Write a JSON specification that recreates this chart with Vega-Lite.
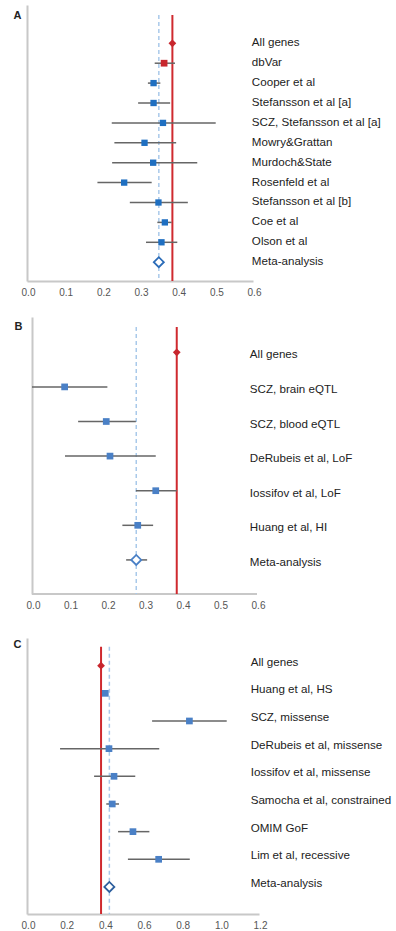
{
  "$schema": "https://vega.github.io/schema/vega-lite/v6.json",
  "background": "white",
  "padding": {"left": 13, "top": 5, "right": 0, "bottom": 0},
  "config": {
    "view": {"stroke": null},
    "font": "Liberation Sans",
    "axis": {"grid": false, "ticks": false, "domainColor": "#c8c8c8", "domainWidth": 2, "labelColor": "#555555", "labelFontSize": 10, "labelFont": "Liberation Sans", "titleFont": "Liberation Sans"},
    "axisX": {"labelPadding": 6, "format": ".1f", "labelOffset": 1, "labelFlush": false, "labelOverlap": false},
    "axisY": {"labels": false, "titleAngle": 0, "titleFontSize": 11, "titleFontWeight": "bold", "titleColor": "#222222", "titleAlign": "right", "titleBaseline": "top"},
    "text": {"font": "Liberation Sans", "fontSize": 11.6, "color": "#222222"}
  },
  "datasets": {
    "A": [
      {"row": 1, "label": "All genes", "kind": "all", "est": 0.386},
      {"row": 2, "label": "dbVar", "kind": "dbvar", "est": 0.364, "lo": 0.339, "hi": 0.393},
      {"row": 3, "label": "Cooper et al", "kind": "study", "est": 0.336, "lo": 0.321, "hi": 0.354},
      {"row": 4, "label": "Stefansson et al [a]", "kind": "study", "est": 0.336, "lo": 0.295, "hi": 0.380},
      {"row": 5, "label": "SCZ, Stefansson et al [a]", "kind": "study", "est": 0.361, "lo": 0.225, "hi": 0.501},
      {"row": 6, "label": "Mowry&Grattan", "kind": "study", "est": 0.312, "lo": 0.232, "hi": 0.396},
      {"row": 7, "label": "Murdoch&State", "kind": "study", "est": 0.335, "lo": 0.226, "hi": 0.452},
      {"row": 8, "label": "Rosenfeld et al", "kind": "study", "est": 0.258, "lo": 0.187, "hi": 0.331},
      {"row": 9, "label": "Stefansson et al [b]", "kind": "study", "est": 0.349, "lo": 0.273, "hi": 0.427},
      {"row": 10, "label": "Coe et al", "kind": "study", "est": 0.366, "lo": 0.346, "hi": 0.384},
      {"row": 11, "label": "Olson et al", "kind": "study", "est": 0.357, "lo": 0.316, "hi": 0.399},
      {"row": 12, "label": "Meta-analysis", "kind": "meta", "est": 0.350, "lo": 0.344, "hi": 0.356}
    ],
    "B": [
      {"row": 1, "label": "All genes", "kind": "all", "est": 0.386},
      {"row": 2, "label": "SCZ, brain eQTL", "kind": "study", "est": 0.087, "lo": 0.0, "hi": 0.201},
      {"row": 3, "label": "SCZ, blood eQTL", "kind": "study", "est": 0.198, "lo": 0.123, "hi": 0.277},
      {"row": 4, "label": "DeRubeis et al, LoF", "kind": "study", "est": 0.208, "lo": 0.088, "hi": 0.330},
      {"row": 5, "label": "Iossifov et al, LoF", "kind": "study", "est": 0.330, "lo": 0.277, "hi": 0.386},
      {"row": 6, "label": "Huang et al, HI", "kind": "study", "est": 0.282, "lo": 0.241, "hi": 0.323},
      {"row": 7, "label": "Meta-analysis", "kind": "meta", "est": 0.278, "lo": 0.251, "hi": 0.307}
    ],
    "C": [
      {"row": 1, "label": "All genes", "kind": "all", "est": 0.383},
      {"row": 2, "label": "Huang et al, HS", "kind": "study", "est": 0.405, "lo": 0.398, "hi": 0.412},
      {"row": 3, "label": "SCZ, missense", "kind": "study", "est": 0.840, "lo": 0.647, "hi": 1.033},
      {"row": 4, "label": "DeRubeis et al, missense", "kind": "study", "est": 0.424, "lo": 0.171, "hi": 0.684},
      {"row": 5, "label": "Iossifov et al, missense", "kind": "study", "est": 0.450, "lo": 0.347, "hi": 0.560},
      {"row": 6, "label": "Samocha et al, constrained", "kind": "study", "est": 0.441, "lo": 0.410, "hi": 0.476},
      {"row": 7, "label": "OMIM GoF", "kind": "study", "est": 0.548, "lo": 0.471, "hi": 0.633},
      {"row": 8, "label": "Lim et al, recessive", "kind": "study", "est": 0.681, "lo": 0.522, "hi": 0.842},
      {"row": 9, "label": "Meta-analysis", "kind": "meta", "est": 0.426}
    ]
  },
  "spacing": 28,
  "vconcat": [
    {
      "spacing": 20,
      "vconcat": [
        {
          "width": 226, "height": 276,
          "data": {"name": "A"},
          "layer": [
            {"transform": [{"filter": "datum.kind == 'all'"}],
             "mark": {"type": "rule", "color": "#cf2a2f", "strokeWidth": 2},
             "encoding": {
               "x": {"field": "est", "type": "quantitative", "scale": {"domain": [0, 0.6], "nice": false, "zero": false}, "axis": {"title": null, "values": [0, 0.1, 0.2, 0.3, 0.4, 0.5, 0.6]}},
               "y": {"datum": -0.42, "type": "quantitative", "scale": {"domain": [-0.925, 12.945], "reverse": true, "nice": false, "zero": false}, "axis": {"title": "A", "titlePadding": 6, "titleY": 4}},
               "y2": {"datum": 12.945}}},
            {"transform": [{"filter": "datum.kind == 'meta'"}],
             "mark": {"type": "rule", "color": "#a9c9ea", "strokeWidth": 1.5, "strokeDash": [4, 3]},
             "encoding": {
               "x": {"field": "est", "type": "quantitative", "scale": {"domain": [0, 0.6], "nice": false, "zero": false}, "axis": {"title": null, "values": [0, 0.1, 0.2, 0.3, 0.4, 0.5, 0.6]}},
               "y": {"datum": -0.42, "type": "quantitative", "scale": {"domain": [-0.925, 12.945], "reverse": true, "nice": false, "zero": false}, "axis": {"title": "A", "titlePadding": 6, "titleY": 4}},
               "y2": {"datum": 12.945}}},
            {"transform": [{"filter": "isValid(datum.lo)"}],
             "mark": {"type": "rule", "color": "#666666", "strokeWidth": 1.5},
             "encoding": {
               "x": {"field": "lo", "type": "quantitative", "scale": {"domain": [0, 0.6], "nice": false, "zero": false}, "axis": {"title": null, "values": [0, 0.1, 0.2, 0.3, 0.4, 0.5, 0.6]}},
               "x2": {"field": "hi"},
               "y": {"field": "row", "type": "quantitative", "scale": {"domain": [-0.925, 12.945], "reverse": true, "nice": false, "zero": false}, "axis": {"title": "A", "titlePadding": 6, "titleY": 4}}}},
            {"transform": [{"filter": "datum.kind == 'study'"}],
             "mark": {"type": "point", "shape": "square", "filled": true, "opacity": 1, "color": "#1f6fc1", "size": 40},
             "encoding": {
               "x": {"field": "est", "type": "quantitative", "scale": {"domain": [0, 0.6], "nice": false, "zero": false}, "axis": {"title": null, "values": [0, 0.1, 0.2, 0.3, 0.4, 0.5, 0.6]}},
               "y": {"field": "row", "type": "quantitative", "scale": {"domain": [-0.925, 12.945], "reverse": true, "nice": false, "zero": false}, "axis": {"title": "A", "titlePadding": 6, "titleY": 4}}}},
            {"transform": [{"filter": "datum.kind == 'dbvar'"}],
             "mark": {"type": "point", "shape": "square", "filled": true, "opacity": 1, "color": "#c8262d", "size": 45},
             "encoding": {
               "x": {"field": "est", "type": "quantitative", "scale": {"domain": [0, 0.6], "nice": false, "zero": false}, "axis": {"title": null, "values": [0, 0.1, 0.2, 0.3, 0.4, 0.5, 0.6]}},
               "y": {"field": "row", "type": "quantitative", "scale": {"domain": [-0.925, 12.945], "reverse": true, "nice": false, "zero": false}, "axis": {"title": "A", "titlePadding": 6, "titleY": 4}}}},
            {"transform": [{"filter": "datum.kind == 'all'"}],
             "mark": {"type": "point", "shape": "diamond", "filled": true, "opacity": 1, "color": "#c8262d", "size": 60},
             "encoding": {
               "x": {"field": "est", "type": "quantitative", "scale": {"domain": [0, 0.6], "nice": false, "zero": false}, "axis": {"title": null, "values": [0, 0.1, 0.2, 0.3, 0.4, 0.5, 0.6]}},
               "y": {"field": "row", "type": "quantitative", "scale": {"domain": [-0.925, 12.945], "reverse": true, "nice": false, "zero": false}, "axis": {"title": "A", "titlePadding": 6, "titleY": 4}}}},
            {"transform": [{"filter": "datum.kind == 'meta'"}],
             "mark": {"type": "point", "shape": "diamond", "filled": true, "opacity": 1, "fill": "white", "stroke": "#2b6cb8", "strokeWidth": 1.8, "size": 100},
             "encoding": {
               "x": {"field": "est", "type": "quantitative", "scale": {"domain": [0, 0.6], "nice": false, "zero": false}, "axis": {"title": null, "values": [0, 0.1, 0.2, 0.3, 0.4, 0.5, 0.6]}},
               "y": {"field": "row", "type": "quantitative", "scale": {"domain": [-0.925, 12.945], "reverse": true, "nice": false, "zero": false}, "axis": {"title": "A", "titlePadding": 6, "titleY": 4}}}},
            {"mark": {"type": "text", "align": "left", "baseline": "middle"},
             "encoding": {
               "x": {"datum": 0.597, "type": "quantitative", "scale": {"domain": [0, 0.6], "nice": false, "zero": false}, "axis": {"title": null, "values": [0, 0.1, 0.2, 0.3, 0.4, 0.5, 0.6]}},
               "y": {"field": "row", "type": "quantitative", "scale": {"domain": [-0.925, 12.945], "reverse": true, "nice": false, "zero": false}, "axis": {"title": "A", "titlePadding": 6, "titleY": 4}},
               "text": {"field": "label"}}}
          ]
        },
        {
          "width": 230, "height": 277,
          "data": {"name": "B"},
          "layer": [
            {"transform": [{"filter": "datum.row == 1"}],
             "mark": {"type": "rule", "color": "#c8c8c8", "strokeWidth": 2},
             "encoding": {
               "x": {"datum": 0, "type": "quantitative", "scale": {"domain": [-0.01333, 0.6], "nice": false, "zero": false}, "axis": {"title": null, "domain": false, "values": [0, 0.1, 0.2, 0.3, 0.4, 0.5, 0.6]}},
               "x2": {"datum": 0.6},
               "y": {"datum": 7.985, "type": "quantitative", "scale": {"domain": [-0.02, 7.985], "reverse": true, "nice": false, "zero": false}, "axis": {"title": "B", "titlePadding": 10, "titleY": 3, "offset": -5}}}},
            {"transform": [{"filter": "datum.kind == 'all'"}],
             "mark": {"type": "rule", "color": "#cf2a2f", "strokeWidth": 2},
             "encoding": {
               "x": {"field": "est", "type": "quantitative", "scale": {"domain": [-0.01333, 0.6], "nice": false, "zero": false}, "axis": {"title": null, "domain": false, "values": [0, 0.1, 0.2, 0.3, 0.4, 0.5, 0.6]}},
               "y": {"datum": 0.269, "type": "quantitative", "scale": {"domain": [-0.02, 7.985], "reverse": true, "nice": false, "zero": false}, "axis": {"title": "B", "titlePadding": 10, "titleY": 3, "offset": -5}},
               "y2": {"datum": 7.985}}},
            {"transform": [{"filter": "datum.kind == 'meta'"}],
             "mark": {"type": "rule", "color": "#a9c9ea", "strokeWidth": 1.5, "strokeDash": [4, 3]},
             "encoding": {
               "x": {"field": "est", "type": "quantitative", "scale": {"domain": [-0.01333, 0.6], "nice": false, "zero": false}, "axis": {"title": null, "domain": false, "values": [0, 0.1, 0.2, 0.3, 0.4, 0.5, 0.6]}},
               "y": {"datum": 0.269, "type": "quantitative", "scale": {"domain": [-0.02, 7.985], "reverse": true, "nice": false, "zero": false}, "axis": {"title": "B", "titlePadding": 10, "titleY": 3, "offset": -5}},
               "y2": {"datum": 7.985}}},
            {"transform": [{"filter": "isValid(datum.lo)"}],
             "mark": {"type": "rule", "color": "#666666", "strokeWidth": 1.5},
             "encoding": {
               "x": {"field": "lo", "type": "quantitative", "scale": {"domain": [-0.01333, 0.6], "nice": false, "zero": false}, "axis": {"title": null, "domain": false, "values": [0, 0.1, 0.2, 0.3, 0.4, 0.5, 0.6]}},
               "x2": {"field": "hi"},
               "y": {"field": "row", "type": "quantitative", "scale": {"domain": [-0.02, 7.985], "reverse": true, "nice": false, "zero": false}, "axis": {"title": "B", "titlePadding": 10, "titleY": 3, "offset": -5}}}},
            {"transform": [{"filter": "datum.kind == 'study'"}],
             "mark": {"type": "point", "shape": "square", "filled": true, "opacity": 1, "color": "#4a80c6", "size": 45},
             "encoding": {
               "x": {"field": "est", "type": "quantitative", "scale": {"domain": [-0.01333, 0.6], "nice": false, "zero": false}, "axis": {"title": null, "domain": false, "values": [0, 0.1, 0.2, 0.3, 0.4, 0.5, 0.6]}},
               "y": {"field": "row", "type": "quantitative", "scale": {"domain": [-0.02, 7.985], "reverse": true, "nice": false, "zero": false}, "axis": {"title": "B", "titlePadding": 10, "titleY": 3, "offset": -5}}}},
            {"transform": [{"filter": "datum.kind == 'all'"}],
             "mark": {"type": "point", "shape": "diamond", "filled": true, "opacity": 1, "color": "#c8262d", "size": 60},
             "encoding": {
               "x": {"field": "est", "type": "quantitative", "scale": {"domain": [-0.01333, 0.6], "nice": false, "zero": false}, "axis": {"title": null, "domain": false, "values": [0, 0.1, 0.2, 0.3, 0.4, 0.5, 0.6]}},
               "y": {"field": "row", "type": "quantitative", "scale": {"domain": [-0.02, 7.985], "reverse": true, "nice": false, "zero": false}, "axis": {"title": "B", "titlePadding": 10, "titleY": 3, "offset": -5}}}},
            {"transform": [{"filter": "datum.kind == 'meta'"}],
             "mark": {"type": "point", "shape": "diamond", "filled": true, "opacity": 1, "fill": "white", "stroke": "#4a80c6", "strokeWidth": 1.8, "size": 100},
             "encoding": {
               "x": {"field": "est", "type": "quantitative", "scale": {"domain": [-0.01333, 0.6], "nice": false, "zero": false}, "axis": {"title": null, "domain": false, "values": [0, 0.1, 0.2, 0.3, 0.4, 0.5, 0.6]}},
               "y": {"field": "row", "type": "quantitative", "scale": {"domain": [-0.02, 7.985], "reverse": true, "nice": false, "zero": false}, "axis": {"title": "B", "titlePadding": 10, "titleY": 3, "offset": -5}}}},
            {"mark": {"type": "text", "align": "left", "baseline": "middle", "dy": 3},
             "encoding": {
               "x": {"datum": 0.581, "type": "quantitative", "scale": {"domain": [-0.01333, 0.6], "nice": false, "zero": false}, "axis": {"title": null, "domain": false, "values": [0, 0.1, 0.2, 0.3, 0.4, 0.5, 0.6]}},
               "y": {"field": "row", "type": "quantitative", "scale": {"domain": [-0.02, 7.985], "reverse": true, "nice": false, "zero": false}, "axis": {"title": "B", "titlePadding": 10, "titleY": 3, "offset": -5}},
               "text": {"field": "label"}}}
          ]
        }
      ]
    },
    {
      "width": 232, "height": 276,
      "data": {"name": "C"},
      "layer": [
        {"transform": [{"filter": "datum.kind == 'all'"}],
         "mark": {"type": "rule", "color": "#cf2a2f", "strokeWidth": 2},
         "encoding": {
           "x": {"field": "est", "type": "quantitative", "scale": {"domain": [0, 1.2], "nice": false, "zero": false}, "axis": {"title": null, "values": [0, 0.2, 0.4, 0.6, 0.8, 1.0, 1.2]}},
           "y": {"datum": 0.313, "type": "quantitative", "scale": {"domain": [0, 9.977], "reverse": true, "nice": false, "zero": false}, "axis": {"title": "C", "titlePadding": 6, "titleY": 0}},
           "y2": {"datum": 9.977}}},
        {"transform": [{"filter": "datum.kind == 'meta'"}],
         "mark": {"type": "rule", "color": "#a9c9ea", "strokeWidth": 1.5, "strokeDash": [4, 3]},
         "encoding": {
           "x": {"field": "est", "type": "quantitative", "scale": {"domain": [0, 1.2], "nice": false, "zero": false}, "axis": {"title": null, "values": [0, 0.2, 0.4, 0.6, 0.8, 1.0, 1.2]}},
           "y": {"datum": 0.313, "type": "quantitative", "scale": {"domain": [0, 9.977], "reverse": true, "nice": false, "zero": false}, "axis": {"title": "C", "titlePadding": 6, "titleY": 0}},
           "y2": {"datum": 9.977}}},
        {"transform": [{"filter": "isValid(datum.lo)"}],
         "mark": {"type": "rule", "color": "#666666", "strokeWidth": 1.5},
         "encoding": {
           "x": {"field": "lo", "type": "quantitative", "scale": {"domain": [0, 1.2], "nice": false, "zero": false}, "axis": {"title": null, "values": [0, 0.2, 0.4, 0.6, 0.8, 1.0, 1.2]}},
           "x2": {"field": "hi"},
           "y": {"field": "row", "type": "quantitative", "scale": {"domain": [0, 9.977], "reverse": true, "nice": false, "zero": false}, "axis": {"title": "C", "titlePadding": 6, "titleY": 0}}}},
        {"transform": [{"filter": "datum.kind == 'study'"}],
         "mark": {"type": "point", "shape": "square", "filled": true, "opacity": 1, "color": "#4a80c6", "size": 45},
         "encoding": {
           "x": {"field": "est", "type": "quantitative", "scale": {"domain": [0, 1.2], "nice": false, "zero": false}, "axis": {"title": null, "values": [0, 0.2, 0.4, 0.6, 0.8, 1.0, 1.2]}},
           "y": {"field": "row", "type": "quantitative", "scale": {"domain": [0, 9.977], "reverse": true, "nice": false, "zero": false}, "axis": {"title": "C", "titlePadding": 6, "titleY": 0}}}},
        {"transform": [{"filter": "datum.kind == 'all'"}],
         "mark": {"type": "point", "shape": "diamond", "filled": true, "opacity": 1, "color": "#c8262d", "size": 60},
         "encoding": {
           "x": {"field": "est", "type": "quantitative", "scale": {"domain": [0, 1.2], "nice": false, "zero": false}, "axis": {"title": null, "values": [0, 0.2, 0.4, 0.6, 0.8, 1.0, 1.2]}},
           "y": {"field": "row", "type": "quantitative", "scale": {"domain": [0, 9.977], "reverse": true, "nice": false, "zero": false}, "axis": {"title": "C", "titlePadding": 6, "titleY": 0}}}},
        {"transform": [{"filter": "datum.kind == 'meta'"}],
         "mark": {"type": "point", "shape": "diamond", "filled": true, "opacity": 1, "fill": "white", "stroke": "#2d5f9e", "strokeWidth": 1.8, "size": 100},
         "encoding": {
           "x": {"field": "est", "type": "quantitative", "scale": {"domain": [0, 1.2], "nice": false, "zero": false}, "axis": {"title": null, "values": [0, 0.2, 0.4, 0.6, 0.8, 1.0, 1.2]}},
           "y": {"field": "row", "type": "quantitative", "scale": {"domain": [0, 9.977], "reverse": true, "nice": false, "zero": false}, "axis": {"title": "C", "titlePadding": 6, "titleY": 0}}}},
        {"mark": {"type": "text", "align": "left", "baseline": "middle", "dy": -3},
         "encoding": {
           "x": {"datum": 1.157, "type": "quantitative", "scale": {"domain": [0, 1.2], "nice": false, "zero": false}, "axis": {"title": null, "values": [0, 0.2, 0.4, 0.6, 0.8, 1.0, 1.2]}},
           "y": {"field": "row", "type": "quantitative", "scale": {"domain": [0, 9.977], "reverse": true, "nice": false, "zero": false}, "axis": {"title": "C", "titlePadding": 6, "titleY": 0}},
           "text": {"field": "label"}}}
      ]
    }
  ]
}
